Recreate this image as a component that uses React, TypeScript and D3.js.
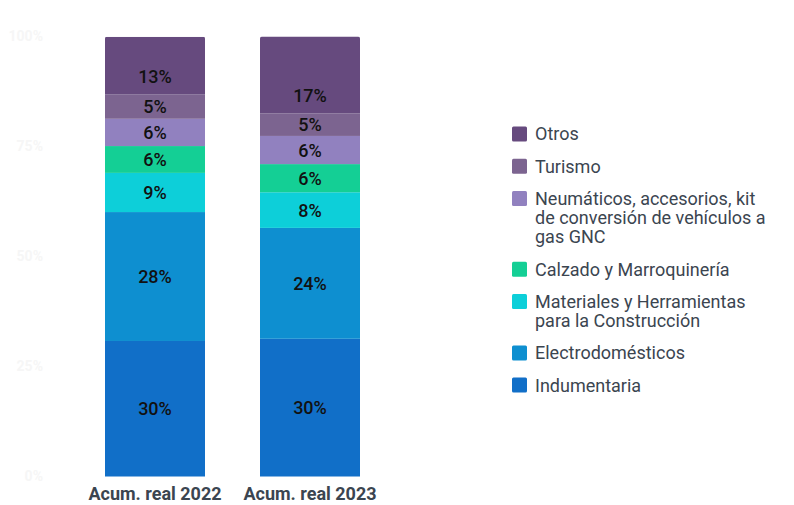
import React from "react";
import * as d3 from "d3";

const categories = ["Acum. real 2022", "Acum. real 2023"];
const seriesNames = [
  "Indumentaria",
  "Electrodomésticos",
  "Materiales y Herramientas para la Construcción",
  "Calzado y Marroquinería",
  "Neumáticos, accesorios, kit de conversión de vehículos a gas GNC",
  "Turismo",
  "Otros",
];
const legendLines = [
  ["Indumentaria"],
  ["Electrodomésticos"],
  ["Materiales y Herramientas", "para la Construcción"],
  ["Calzado y Marroquinería"],
  ["Neumáticos, accesorios, kit", "de conversión de vehículos a", "gas GNC"],
  ["Turismo"],
  ["Otros"],
];
const colors = ["#116fc8", "#0e8fd0", "#0dcfd9", "#14cf95", "#9181bf", "#7c6490", "#664a7e"];
// values per series for [2022, 2023]
const values2022 = [30.8, 29.3, 8.9, 6.1, 6.2, 5.5, 13.1];
const values2023 = [31.3, 25.2, 8.1, 6.4, 6.4, 5.1, 17.5];
const labels2022 = ["30%", "28%", "9%", "6%", "6%", "5%", "13%"];
const labels2023 = ["30%", "24%", "8%", "6%", "6%", "5%", "17%"];
const yTicks = [0, 25, 50, 75, 100];

const W = 794;
const H = 505;

export default function App() {
  const y = d3.scaleLinear().domain([0, 100]).range([476.5, 36.5]);
  const x = d3
    .scaleBand()
    .domain(categories)
    .range([58.5, 406.5])
    .paddingInner(0.3548)
    .paddingOuter(0.3);
  const allValues = [values2022, values2023];
  const allLabels = [labels2022, labels2023];

  const bars = categories.map((cat, ci) => {
    const vals = allValues[ci];
    let acc = 0;
    const segs = vals.map((v, si) => {
      const y0 = acc;
      acc += v;
      return { si, y0, y1: acc, v };
    });
    return { cat, segs, ci };
  });

  const legendX = 512;
  const legendYStart = 134;
  const lineH = 19.3;
  const gap = 12.9;
  const legendOrder = [6, 5, 4, 3, 2, 1, 0];
  let ly = legendYStart;
  const legendItems = legendOrder.map((si) => {
    const lines = legendLines[si];
    const item = { si, y: ly, lines };
    ly += lines.length * lineH + gap;
    return item;
  });

  const clipId = (ci: number) => `clip-bar-${ci}`;

  return (
    <svg
      width={W}
      height={H}
      style={{ position: "absolute", left: 0, top: 0, fontFamily: "Roboto, sans-serif" }}
    >
      <rect width={W} height={H} fill="#ffffff" />
      {yTicks.map((t) => (
        <text
          key={t}
          x={43}
          y={y(t)}
          dy="0.35em"
          textAnchor="end"
          fontSize={14}
          fontWeight={700}
          fill="#f6f6f6"
        >
          {t}%
        </text>
      ))}
      <defs>
        {bars.map((b) => (
          <clipPath id={clipId(b.ci)} key={b.ci}>
            <rect
              x={x(b.cat)!}
              y={y(100)}
              width={x.bandwidth()}
              height={y(0) - y(100) + 4}
              rx={2}
            />
          </clipPath>
        ))}
      </defs>
      {bars.map((b) => (
        <g key={b.cat}>
          <g clipPath={`url(#${clipId(b.ci)})`}>
            {b.segs.map((s) => (
              <rect
                key={s.si}
                x={x(b.cat)!}
                y={y(s.y1)}
                width={x.bandwidth()}
                height={y(s.y0) - y(s.y1)}
                fill={colors[s.si]}
              />
            ))}
          </g>
          {b.segs.map((s) => {
            const isTop = s.si === b.segs.length - 1;
            const ly = isTop ? y(s.y0 + 4.1) : y((s.y0 + s.y1) / 2);
            return (
              <text
                key={s.si}
                x={x(b.cat)! + x.bandwidth() / 2}
                y={ly}
                dy="0.36em"
                textAnchor="middle"
                fontSize={18}
                fontWeight={500}
                fill="#111111"
              >
                {allLabels[b.ci][s.si]}
              </text>
            );
          })}
          <text
            x={x(b.cat)! + x.bandwidth() / 2}
            y={494}
            dy="0.36em"
            textAnchor="middle"
            fontSize={18}
            fontWeight={700}
            fill="#3b4550"
          >
            {b.cat}
          </text>
        </g>
      ))}
      {legendItems.map((it) => (
        <g key={it.si}>
          <rect
            x={legendX}
            y={it.y - 7.5}
            width={15}
            height={15}
            rx={1.5}
            fill={colors[it.si]}
          />
          {it.lines.map((ln, i) => (
            <text
              key={i}
              x={legendX + 23}
              y={it.y + i * lineH}
              dy="0.36em"
              fontSize={18}
              fill="#3b4550"
            >
              {ln}
            </text>
          ))}
        </g>
      ))}
    </svg>
  );
}
